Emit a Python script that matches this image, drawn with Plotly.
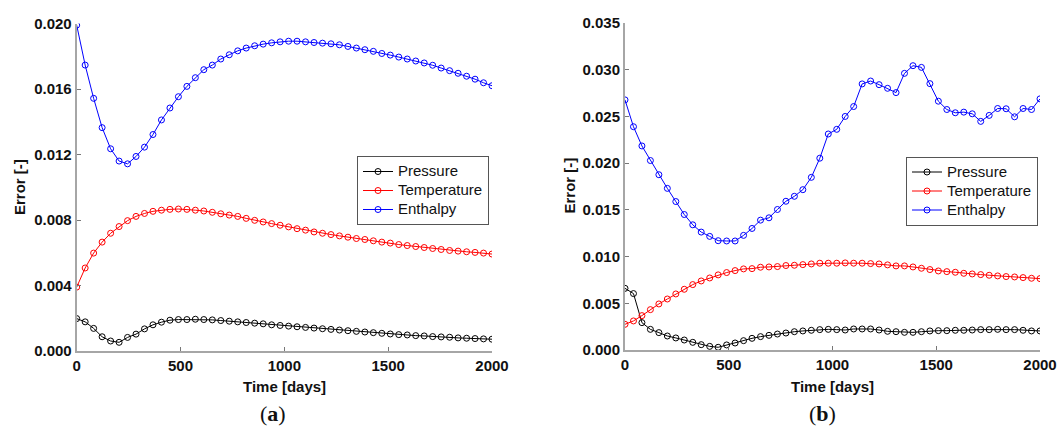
import plotly.graph_objects as go

# Sampling times [days]
time_days = [0, 40.8, 81.6, 122.4, 163.3, 204.1, 244.9, 285.7, 326.5, 367.3,
             408.2, 449.0, 489.8, 530.6, 571.4, 612.2, 653.1, 693.9, 734.7, 775.5,
             816.3, 857.1, 898.0, 938.8, 979.6, 1020.4, 1061.2, 1102.0, 1142.9, 1183.7,
             1224.5, 1265.3, 1306.1, 1346.9, 1387.8, 1428.6, 1469.4, 1510.2, 1551.0, 1591.8,
             1632.7, 1673.5, 1714.3, 1755.1, 1795.9, 1836.7, 1877.6, 1918.4, 1959.2, 2000.0]

# Panel (a)
a_pressure = [0.00198, 0.00178, 0.00138, 0.00087, 0.00061, 0.00053, 0.00083, 0.00103, 0.00135, 0.0016,
              0.00176, 0.00188, 0.00192, 0.00192, 0.00194, 0.00192, 0.0019, 0.00186, 0.00182, 0.00178,
              0.00174, 0.0017, 0.00166, 0.0016, 0.00156, 0.00152, 0.00148, 0.00144, 0.0014, 0.00136,
              0.00132, 0.00128, 0.00124, 0.0012, 0.00116, 0.00112, 0.00108, 0.00104, 0.001, 0.00098,
              0.00094, 0.00092, 0.00088, 0.00086, 0.00084, 0.0008, 0.00078, 0.00076, 0.00074, 0.00072]
a_temperature = [0.0039, 0.00507, 0.00598, 0.00665, 0.00719, 0.0076, 0.00796, 0.00822, 0.0084, 0.00853,
                 0.0086, 0.00865, 0.00867, 0.00865, 0.0086, 0.00855, 0.00847, 0.00838, 0.0083, 0.00822,
                 0.0081, 0.00798, 0.00788, 0.00778, 0.00768, 0.00758, 0.00747, 0.00738, 0.00727, 0.00719,
                 0.00711, 0.00703, 0.00695, 0.00687, 0.00681, 0.00673, 0.00665, 0.00659, 0.0065, 0.00644,
                 0.00638, 0.00632, 0.00626, 0.0062, 0.00614, 0.0061, 0.00606, 0.00602, 0.00598, 0.00592]
a_enthalpy = [0.0199, 0.01746, 0.01543, 0.01364, 0.01235, 0.0116, 0.01143, 0.01188, 0.01245, 0.01322,
              0.01411, 0.01484, 0.01553, 0.01616, 0.01669, 0.01718, 0.01746, 0.01783, 0.01809, 0.01833,
              0.0185, 0.01864, 0.01874, 0.01882, 0.01888, 0.01892, 0.01892, 0.01888, 0.01884, 0.0188,
              0.01876, 0.0187, 0.0186, 0.0185, 0.0184, 0.0183, 0.01817, 0.01807, 0.01795, 0.01783,
              0.01771, 0.01759, 0.01745, 0.01728, 0.01712, 0.01696, 0.01678, 0.0166, 0.01638, 0.0162]

# Panel (b)
b_pressure = [0.0066, 0.00604, 0.00293, 0.00221, 0.00186, 0.0015, 0.00129, 0.00107, 0.00082, 0.00057,
              0.00039, 0.00029, 0.00054, 0.00075, 0.001, 0.00125, 0.00143, 0.00157, 0.00171, 0.00182,
              0.00196, 0.00204, 0.00211, 0.00218, 0.00221, 0.00218, 0.00214, 0.00225, 0.00225, 0.00225,
              0.00214, 0.002, 0.00196, 0.00189, 0.00189, 0.00196, 0.00204, 0.00207, 0.00207, 0.00211,
              0.00211, 0.00214, 0.00218, 0.00218, 0.00221, 0.00218, 0.00218, 0.00211, 0.00204, 0.00204]
b_temperature = [0.00275, 0.00311, 0.00368, 0.00432, 0.00493, 0.00546, 0.006, 0.0065, 0.007, 0.00739,
                 0.00771, 0.00804, 0.00829, 0.0085, 0.00868, 0.00871, 0.00886, 0.00889, 0.00893, 0.00904,
                 0.00907, 0.00914, 0.00921, 0.00929, 0.00929, 0.00929, 0.00932, 0.00929, 0.00929, 0.00925,
                 0.00921, 0.00911, 0.009, 0.009, 0.00889, 0.00875, 0.00861, 0.00846, 0.00839, 0.00832,
                 0.00821, 0.00814, 0.00807, 0.008, 0.00793, 0.00786, 0.00782, 0.00775, 0.00768, 0.00764]
b_enthalpy = [0.02677, 0.0239, 0.02184, 0.02028, 0.01876, 0.0173, 0.01589, 0.0145, 0.0134, 0.01262,
              0.01216, 0.0117, 0.01167, 0.01167, 0.01227, 0.01301, 0.0139, 0.01415, 0.01504, 0.01592,
              0.01645, 0.01716, 0.01848, 0.02053, 0.02312, 0.02362, 0.025, 0.02606, 0.02848, 0.02879,
              0.0284, 0.02801, 0.02755, 0.02961, 0.03043, 0.03025, 0.02851, 0.02663, 0.02574, 0.02539,
              0.02546, 0.02528, 0.02447, 0.02511, 0.02585, 0.02582, 0.02496, 0.02585, 0.02574, 0.02688]

series_names = ["Pressure", "Temperature", "Enthalpy"]
series_colors = ["#000000", "#ff0000", "#0000ff"]

FONT = "Liberation Sans, Arial, sans-serif"
AXIS_GRAY = "#a6a6a6"

fig = go.Figure()

panels = [
    ("x", "y", "legend", [a_pressure, a_temperature, a_enthalpy]),
    ("x2", "y2", "legend2", [b_pressure, b_temperature, b_enthalpy]),
]
for xa, ya, leg, data in panels:
    for name, color, vals in zip(series_names, series_colors, data):
        fig.add_trace(go.Scatter(
            x=time_days, y=vals, mode="lines+markers",
            # legend rows are spaced by the small legend font; the label itself is drawn larger
            name='<span style="font-size:15px">%s</span>' % name,
            xaxis=xa, yaxis=ya, legend=leg,
            line=dict(color=color, width=1),
            marker=dict(symbol="circle-open", size=6, color=color, line=dict(width=1, color=color)),
        ))

tick_font = dict(family=FONT, size=15, color="#111111", weight="bold")
common_x = dict(range=[0, 2000], dtick=500, tick0=0, showline=True, linecolor=AXIS_GRAY, linewidth=2,
                ticks="inside", ticklen=4, tickcolor="#777777", tickfont=tick_font,
                showgrid=False, zeroline=False, mirror=False, automargin=False)
common_y = dict(showline=True, linecolor=AXIS_GRAY, linewidth=2, tickformat=".3f",
                ticks="inside", ticklen=4, tickcolor="#777777", tickfont=tick_font,
                showgrid=False, zeroline=False, mirror=False, automargin=False)

legend_style = dict(xanchor="left", yanchor="top", bordercolor="#555555", borderwidth=1,
                    bgcolor="white", font=dict(family=FONT, size=12, color="#111111"),
                    tracegroupgap=0)

W, H = 1059, 428
fig.update_layout(
    width=W, height=H,
    margin=dict(l=0, r=0, t=0, b=0),
    paper_bgcolor="white", plot_bgcolor="white",
    xaxis=dict(domain=[76.7 / W, 492 / W], anchor="y", **common_x),
    yaxis=dict(domain=[1 - 351 / H, 1 - 23.5 / H], anchor="x", range=[0, 0.020], dtick=0.004, **common_y),
    xaxis2=dict(domain=[625 / W, 1040 / W], anchor="y2", **common_x),
    yaxis2=dict(domain=[1 - 350 / H, 1 - 23 / H], anchor="x2", range=[0, 0.035], dtick=0.005, **common_y),
    legend=dict(x=357 / W, y=1 - 156 / H, **legend_style),
    legend2=dict(x=906 / W, y=1 - 156.5 / H, **legend_style),
)

title_font = dict(family=FONT, size=15, color="#111111", weight="bold")
label_font = dict(family="Liberation Serif, DejaVu Serif, serif", size=22, color="#111111")
annos = [
    dict(text="Time [days]", x=284.5, y=386, font=title_font),
    dict(text="Time [days]", x=832.5, y=386, font=title_font),
    dict(text="Error [-]", x=19, y=187, font=title_font, textangle=-90),
    dict(text="Error [-]", x=568.5, y=186, font=title_font, textangle=-90),
    dict(text="(<b>a</b>)", x=273, y=413, font=label_font),
    dict(text="(<b>b</b>)", x=822, y=413, font=label_font),
]
for a in annos:
    fig.add_annotation(text=a["text"], x=a["x"] / W, y=1 - a["y"] / H, xref="paper", yref="paper",
                       xanchor="center", yanchor="middle", showarrow=False,
                       font=a["font"], textangle=a.get("textangle", 0))

fig.write_html("out.html")
